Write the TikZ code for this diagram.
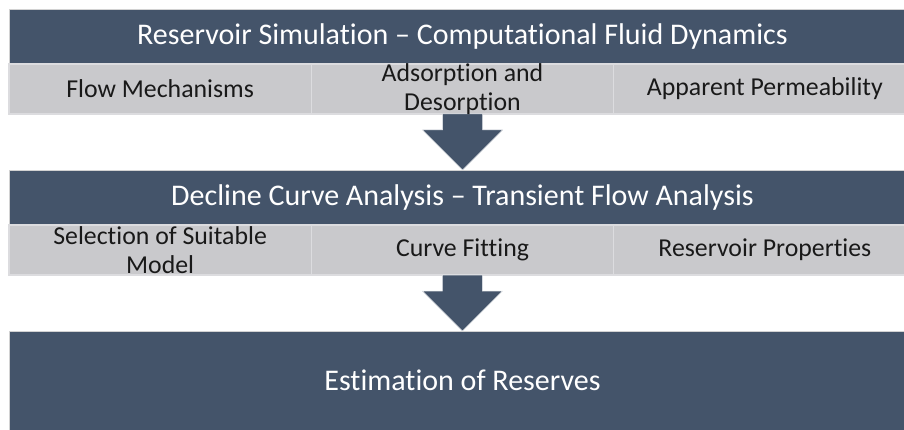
\documentclass[tikz,border=0pt]{standalone}
\usepackage{fontspec}
\setmainfont{Carlito}[Ligatures=NoCommon]
\usepackage{tikz}
\usetikzlibrary{positioning,calc}
\definecolor{slate}{HTML}{44546A}
\definecolor{cellgrey}{HTML}{C9C9CC}
\definecolor{cellline}{HTML}{DCDCDF}

\begin{document}
\begin{tikzpicture}[x=1pt,y=-1pt,
 head/.style={fill=slate,draw=gray!35,line width=0.6pt,outer sep=0pt,inner sep=0pt,
 minimum width=907pt,minimum height=55pt,text=white,font=\fontsize{30}{34}\selectfont},
 cell/.style={fill=cellgrey,draw=cellline,line width=1.5pt,outer sep=0pt,inner sep=0pt,
 minimum width=302.33pt,minimum height=50pt},
 celltext/.style={align=center,inner sep=0pt,text=black!90,font=\fontsize{25.8}{28.5}\selectfont},
 blockarrow/.style={fill=slate,draw=white!85!slate,line width=0.5pt},node distance=0pt]
\useasboundingbox (0,0) rectangle (904,430);
\clip (0,0) rectangle (904,430);
% simulation stage
\node[head,anchor=north west] (sim) at (9,9) {Reservoir Simulation -- Computational Fluid Dynamics};
\node[cell,below right=0pt and 0pt of sim.south west] (flow) {};
\node[cell,right=of flow] (ads) {};
\node[cell,right=of ads] (perm) {};
\fill[blockarrow] ($(ads.south)+(-20,0)$) -- ++(40,0) -- ++(0,16) -- ++(20,0)
 -- ++(-40,40) -- ++(-40,-40) -- ++(20,0) -- cycle;
\node[celltext] (flow-t) at (flow.center) {Flow Mechanisms};
\node[celltext] (ads-t) at (ads.center) {Adsorption and\\Desorption};
\node[celltext] (perm-t) at (perm.center) {Apparent Permeability};
% decline curve stage
\node[head,below=56pt of ads] (dca) {Decline Curve Analysis -- Transient Flow Analysis};
\node[cell,below right=0pt and 0pt of dca.south west] (model) {};
\node[cell,right=of model] (fit) {};
\node[cell,right=of fit] (props) {};
\fill[blockarrow] ($(fit.south)+(-20,0)$) -- ++(40,0) -- ++(0,16) -- ++(20,0)
 -- ++(-40,40) -- ++(-40,-40) -- ++(20,0) -- cycle;
\node[celltext] (model-t) at (model.center) {Selection of Suitable\\Model};
\node[celltext] (fit-t) at (fit.center) {Curve Fitting};
\node[celltext] (props-t) at (props.center) {Reservoir Properties};
% reserves
\node[head,below=56pt of fit,minimum height=101pt] (res) {};
\node[text=white,font=\fontsize{30}{34}\selectfont] (res-t) at ($(res.north)+(0,49)$) {Estimation of Reserves};
\end{tikzpicture}
\end{document}
